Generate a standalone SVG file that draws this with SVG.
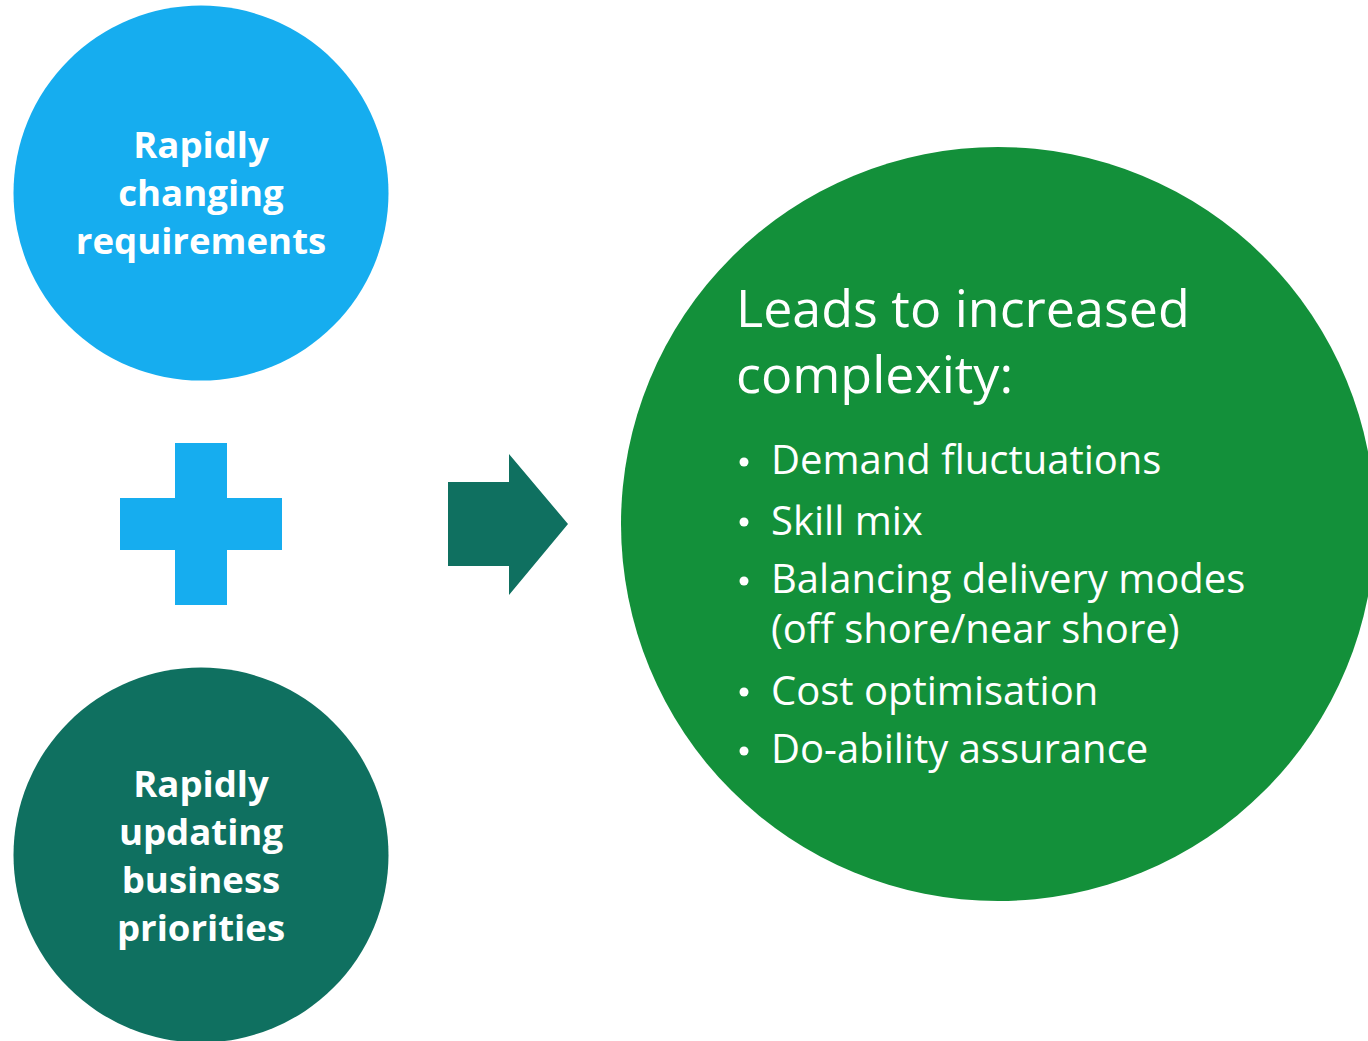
<svg xmlns="http://www.w3.org/2000/svg" width="1368" height="1041" viewBox="0 0 1368 1041">
<style>
.lbl{font-family:"Open Sans","Noto Sans","DejaVu Sans",sans-serif;font-weight:bold;font-size:36.6px;fill:#fff;text-anchor:middle}
.ttl{font-family:"Open Sans","Noto Sans","DejaVu Sans",sans-serif;font-size:52px;fill:#fff}
.itm{font-family:"Open Sans","Noto Sans","DejaVu Sans",sans-serif;font-size:40px;fill:#fff}
</style>
<rect width="1368" height="1041" fill="#fff"/>
<g id="node-changing">
<circle cx="201" cy="193" r="187.5" fill="#16ADEF"/>
<text class="lbl" x="201" y="158">Rapidly</text>
<text class="lbl" x="201" y="206">changing</text>
<text class="lbl" x="201" y="254">requirements</text>
</g>
<g id="node-plus">
<rect x="175" y="443" width="52" height="162" fill="#16ADEF"/>
<rect x="120" y="498" width="162" height="52" fill="#16ADEF"/>
</g>
<g id="node-updating">
<circle cx="201" cy="855" r="187.5" fill="#0F7060"/>
<text class="lbl" x="201" y="797">Rapidly</text>
<text class="lbl" x="201" y="845">updating</text>
<text class="lbl" x="201" y="893">business</text>
<text class="lbl" x="201" y="941">priorities</text>
</g>
<g id="connectors">
<polygon points="448,482 509,482 509,454 568,524 509,595 509,566 448,566" fill="#0F7060"/>
</g>
<g id="node-complexity">
<circle cx="998" cy="524" r="377" fill="#13903A"/>
<text class="ttl" x="736" y="327">Leads to increased</text>
<text class="ttl" x="736" y="393">complexity:</text>
<circle cx="744" cy="462" r="4.5" fill="#fff"/>
<text class="itm" x="771" y="474">Demand fluctuations</text>
<circle cx="744" cy="522" r="4.5" fill="#fff"/>
<text class="itm" x="771" y="535">Skill mix</text>
<circle cx="744" cy="581" r="4.5" fill="#fff"/>
<text class="itm" x="771" y="593">Balancing delivery modes</text>
<text class="itm" x="771" y="643">(off shore/near shore)</text>
<circle cx="744" cy="692" r="4.5" fill="#fff"/>
<text class="itm" x="771" y="705">Cost optimisation</text>
<circle cx="744" cy="751" r="4.5" fill="#fff"/>
<text class="itm" x="771" y="763">Do-ability assurance</text>
</g>
</svg>
